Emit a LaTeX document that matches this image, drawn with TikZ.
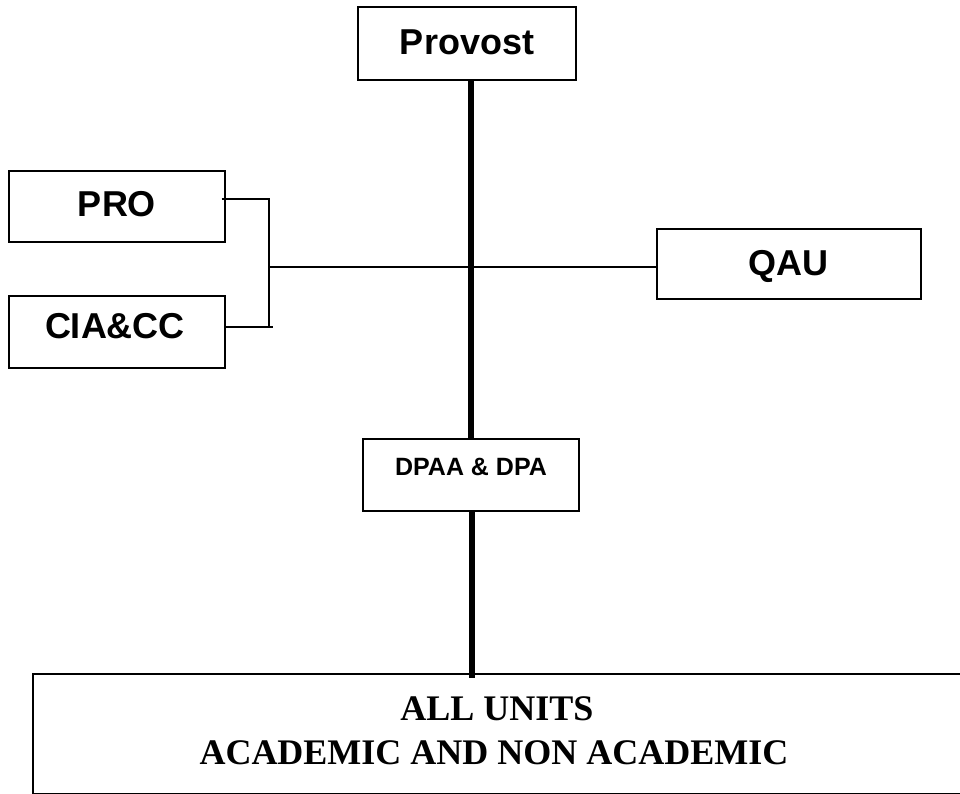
\documentclass[tikz,border=0pt]{standalone}
\usepackage{fontspec}
\newfontfamily\arialf{Liberation Sans}
\newfontfamily\timesf{Liberation Serif}
\begin{document}
\begin{tikzpicture}[x=1pt,y=-1pt,
  box/.style={draw=black,line width=1.3pt,rectangle,inner sep=0pt},
  big/.style={font=\arialf\bfseries\fontsize{36}{43}\selectfont,anchor=base,inner sep=0pt},
  small/.style={font=\arialf\bfseries\fontsize{25}{30}\selectfont,anchor=base,inner sep=0pt},
  serifbig/.style={font=\timesf\bfseries\fontsize{36}{44}\selectfont,anchor=base,inner sep=0pt},
  trunk/.style={line width=6pt},
  conn/.style={line width=1.2pt}]
\useasboundingbox (0,0) rectangle (960,794);
\clip (0,0) rectangle (960,794);
% boxes
\node[box,minimum width=218pt,minimum height=73pt] (prov) at (467,43.5) {};
\node[box,minimum width=216pt,minimum height=71pt] (pro) at (117,206.5) {};
\node[box,minimum width=216pt,minimum height=72pt] (cia) at (117,332) {};
\node[box,minimum width=264pt,minimum height=70pt] (qau) at (789,264) {};
\node[box,minimum width=216pt,minimum height=72pt] (dpaa) at (471,475) {};
\node[draw=black,line width=1.8pt,rectangle,inner sep=0pt,minimum width=947pt,minimum height=120pt] (all) at (506.5,734) {};
% texts
\node[big] (tprov) at (467,55) {Provost};
\node[big] (tpro) at (117,217) {PRO};
\node[big] (tcia) at (115,338) {CIA\&CC};
\node[big] (tqau) at (788,275) {QAU};
\node[small] (tdpaa) at (471,475) {DPAA \& DPA};
\node[serifbig] (tall1) at (497,720) {ALL UNITS};
\node[serifbig] (tall2) at (494,764) {ACADEMIC AND NON ACADEMIC};
% trunk
\draw[trunk] (dpaa.north |- prov.south) -- (dpaa.north);
\draw[trunk] ([xshift=1pt]dpaa.south) -- ([xshift=1pt,yshift=-5pt]dpaa.south |- all.north);
% side connectors
\coordinate (j) at (269,267);
\draw[conn] ([xshift=-4pt]pro.east |- 0,199) -- (269,199) -- (269,327);
\draw[conn] (cia.east |- 0,327) -- (273,327);
\draw[conn] (j) -- (j -| qau.west);
\end{tikzpicture}
\end{document}
